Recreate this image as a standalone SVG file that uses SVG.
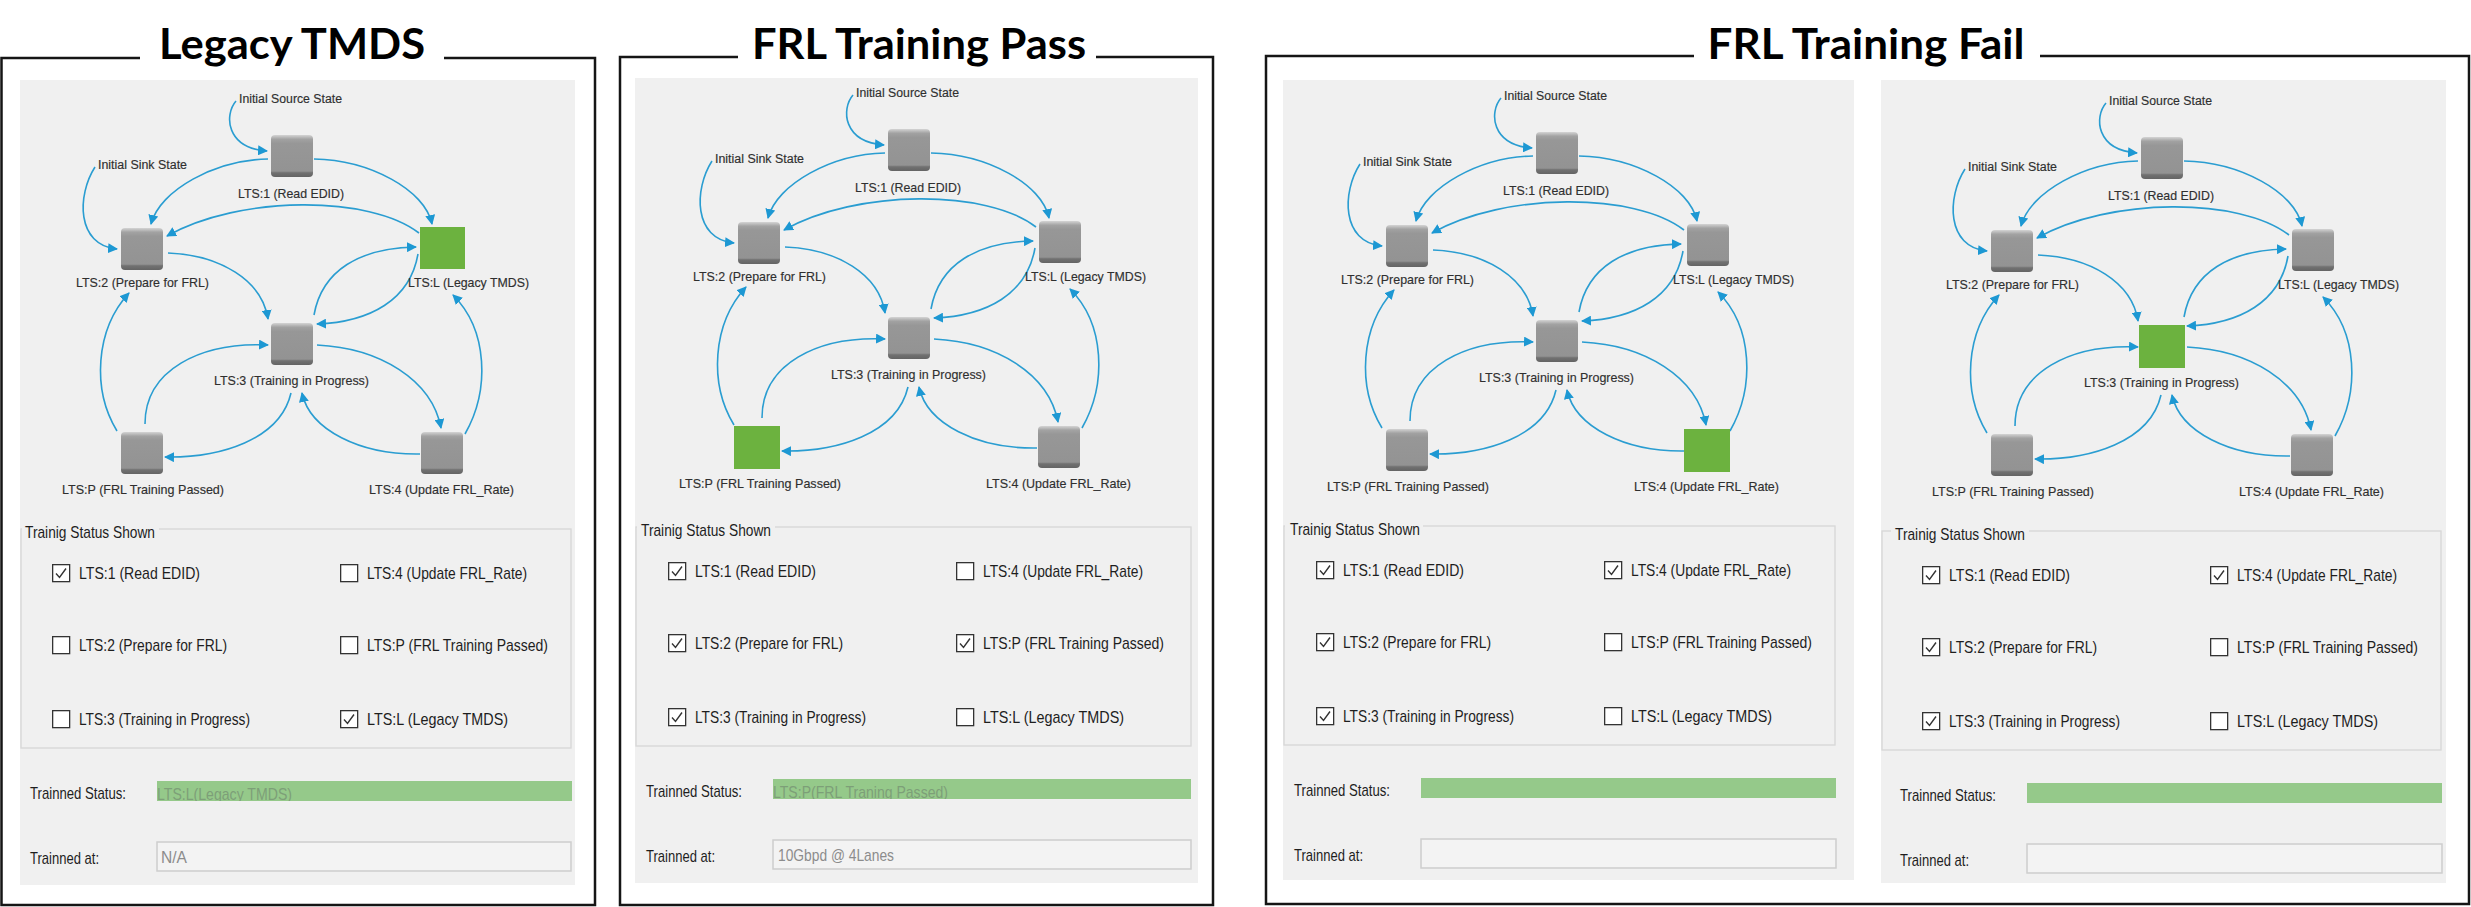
<svg xmlns="http://www.w3.org/2000/svg" xmlns:xlink="http://www.w3.org/1999/xlink" width="2471" height="907" viewBox="0 0 2471 907">
<defs>
<style>
.frame{fill:none;stroke:#151515;stroke-width:2.5}
.title{font-family:Lato,'Open Sans','Liberation Sans',sans-serif;font-weight:700;font-size:42px;fill:#000}
.panel{fill:#f0f0f0}
.edge{fill:none;stroke:#2a9dd1;stroke-width:1.6;marker-end:url(#arr)}
.gl{font-family:'Liberation Sans',Arial,sans-serif;font-size:13px;fill:#2f2f2f;stroke:#2f2f2f;stroke-width:0.15}
.gs{font-family:'Liberation Sans',Arial,sans-serif;font-size:12px;fill:#2f2f2f;stroke:#2f2f2f;stroke-width:0.15}
.ui{font-family:'Liberation Sans',Arial,sans-serif;font-size:17px;fill:#1e1e1e}
.cb{fill:#fff;stroke:#333;stroke-width:1.3}
.ck{fill:none;stroke:#333;stroke-width:1.4}
.gbox{fill:none;stroke:#d6d6d6;stroke-width:1.3}
.gbl{fill:#f0f0f0}
.bar{fill:#95c98a}
.bartxt{fill:#7d9f78}
.field{fill:#f3f3f3;stroke:#cdcdcd;stroke-width:1.5}
.ftxt{fill:#8c8c8c}
.gray{fill:url(#gnode)}
.green{fill:#6cb23f}
</style>
<linearGradient id="gnode" x1="0" y1="0" x2="0" y2="1">
<stop offset="0" stop-color="#d4d4d4"/>
<stop offset="0.1" stop-color="#a2a2a2"/>
<stop offset="0.2" stop-color="#979797"/>
<stop offset="0.86" stop-color="#939393"/>
<stop offset="0.9" stop-color="#717171"/>
<stop offset="1" stop-color="#646464"/>
</linearGradient>
<marker id="arr" viewBox="0 0 10 10" refX="9" refY="5" markerWidth="10" markerHeight="10" markerUnits="userSpaceOnUse" orient="auto">
<path d="M0,0 L10,5 L0,10 z" fill="#1d98d3"/>
</marker>
<clipPath id="barclip" clipPathUnits="userSpaceOnUse"><rect x="157" y="781" width="418" height="20"/></clipPath>
<g id="cb0"><rect class="cb" x="0.65" y="0.65" width="17" height="17"/></g>
<g id="cb1"><rect class="cb" x="0.65" y="0.65" width="17" height="17"/><path class="ck" d="M4,9.5 L7.5,13.5 L14,4.5"/></g>
</defs>

<rect x="0" y="0" width="2471" height="907" fill="#ffffff"/>

<!-- ================= Panel 1: Legacy TMDS ================= -->
<g id="panel-legacy">
<path class="frame" d="M140,58 H1.5 V905 H595 V58 H444"/>
<text class="title" x="292" y="59" text-anchor="middle" textLength="266" lengthAdjust="spacingAndGlyphs">Legacy TMDS</text>
<rect class="panel" x="20" y="80" width="555" height="805"/>
<g transform="translate(0,0)">
<g id="p1-connectors">
<path class="edge" d="M236,101 C224,115 226,148 267,151"/>
<path class="edge" d="M95,167 C77,195 76,245 117,249"/>
<path class="edge" d="M268,159 C215,160 160,190 151,224"/>
<path class="edge" d="M314,159 C370,160 425,190 432,224"/>
<path class="edge" d="M419,233 C370,195 240,195 167,236"/>
<path class="edge" d="M168,253 C220,255 262,280 268,319"/>
<path class="edge" d="M314,315 C322,270 360,248 416,247"/>
<path class="edge" d="M418,254 C410,300 370,322 317,324"/>
<path class="edge" d="M465,434 C490,390 488,330 453,295"/>
<path class="edge" d="M317,345 C380,348 432,380 441,428"/>
<path class="edge" d="M420,454 C360,455 310,430 302,393"/>
<path class="edge" d="M291,393 C280,440 220,458 165,457"/>
<path class="edge" d="M145,424 C145,370 200,342 268,345"/>
<path class="edge" d="M117,431 C92,390 95,330 129,293"/>
</g>
<g id="p1-init-source"><text class="gs" x="239" y="103" textLength="103" lengthAdjust="spacingAndGlyphs">Initial Source State</text></g>
<g id="p1-init-sink"><text class="gs" x="98" y="169" textLength="89" lengthAdjust="spacingAndGlyphs">Initial Sink State</text></g>
<g id="p1-lts1"><rect class="gray" x="271" y="135" width="42" height="42" rx="4"/><text class="gl" x="238" y="198" textLength="106" lengthAdjust="spacingAndGlyphs">LTS:1 (Read EDID)</text></g>
<g id="p1-lts2"><rect class="gray" x="121" y="228" width="42" height="42" rx="4"/><text class="gl" x="76" y="287" textLength="133" lengthAdjust="spacingAndGlyphs">LTS:2 (Prepare for FRL)</text></g>
<g id="p1-ltsL"><rect class="green" x="420" y="227" width="45" height="42"/><text class="gl" x="408" y="287" textLength="121" lengthAdjust="spacingAndGlyphs">LTS:L (Legacy TMDS)</text></g>
<g id="p1-lts3"><rect class="gray" x="271" y="323" width="42" height="42" rx="4"/><text class="gl" x="214" y="385" textLength="155" lengthAdjust="spacingAndGlyphs">LTS:3 (Training in Progress)</text></g>
<g id="p1-ltsP"><rect class="gray" x="121" y="432" width="42" height="42" rx="4"/><text class="gl" x="62" y="494" textLength="162" lengthAdjust="spacingAndGlyphs">LTS:P (FRL Training Passed)</text></g>
<g id="p1-lts4"><rect class="gray" x="421" y="432" width="42" height="42" rx="4"/><text class="gl" x="369" y="494" textLength="145" lengthAdjust="spacingAndGlyphs">LTS:4 (Update FRL_Rate)</text></g>
</g>
<g id="p1-status" transform="translate(0,0)">
<rect class="gbox" x="21" y="529" width="550" height="219"/>
<rect class="gbl" x="22" y="522" width="137" height="14"/>
<text class="ui" x="25" y="538" textLength="130" lengthAdjust="spacingAndGlyphs">Trainig Status Shown</text>
<use xlink:href="#cb1" x="52" y="564"/><text class="ui" x="79" y="579" textLength="121" lengthAdjust="spacingAndGlyphs">LTS:1 (Read EDID)</text>
<use xlink:href="#cb0" x="52" y="636"/><text class="ui" x="79" y="651" textLength="148" lengthAdjust="spacingAndGlyphs">LTS:2 (Prepare for FRL)</text>
<use xlink:href="#cb0" x="52" y="710"/><text class="ui" x="79" y="725" textLength="171" lengthAdjust="spacingAndGlyphs">LTS:3 (Training in Progress)</text>
<use xlink:href="#cb0" x="340" y="564"/><text class="ui" x="367" y="579" textLength="160" lengthAdjust="spacingAndGlyphs">LTS:4 (Update FRL_Rate)</text>
<use xlink:href="#cb0" x="340" y="636"/><text class="ui" x="367" y="651" textLength="181" lengthAdjust="spacingAndGlyphs">LTS:P (FRL Training Passed)</text>
<use xlink:href="#cb1" x="340" y="710"/><text class="ui" x="367" y="725" textLength="141" lengthAdjust="spacingAndGlyphs">LTS:L (Legacy TMDS)</text>
<text class="ui" x="30" y="799" textLength="96" lengthAdjust="spacingAndGlyphs">Trainned Status:</text>
<rect class="bar" x="157" y="781" width="415" height="20"/>
<text class="ui bartxt" x="157" y="800" textLength="135" lengthAdjust="spacingAndGlyphs" clip-path="url(#barclip)">LTS:L(Legacy TMDS)</text>
<text class="ui" x="30" y="864" textLength="69" lengthAdjust="spacingAndGlyphs">Trainned at:</text>
<rect class="field" x="157" y="842" width="414" height="29"/>
<text class="ui ftxt" x="161" y="863" textLength="26" lengthAdjust="spacingAndGlyphs">N/A</text>
</g>
</g>

<!-- ================= Panel 2: FRL Training Pass ================= -->
<g id="panel-pass">
<path class="frame" d="M738,57 H620 V905 H1213 V57 H1096"/>
<text class="title" x="919" y="59" text-anchor="middle" textLength="334" lengthAdjust="spacingAndGlyphs">FRL Training Pass</text>
<rect class="panel" x="635" y="78" width="563" height="805"/>
<g transform="translate(617,-6)">
<g id="p2-connectors">
<path class="edge" d="M236,101 C224,115 226,148 267,151"/>
<path class="edge" d="M95,167 C77,195 76,245 117,249"/>
<path class="edge" d="M268,159 C215,160 160,190 151,224"/>
<path class="edge" d="M314,159 C370,160 425,190 432,224"/>
<path class="edge" d="M419,233 C370,195 240,195 167,236"/>
<path class="edge" d="M168,253 C220,255 262,280 268,319"/>
<path class="edge" d="M314,315 C322,270 360,248 416,247"/>
<path class="edge" d="M418,254 C410,300 370,322 317,324"/>
<path class="edge" d="M465,434 C490,390 488,330 453,295"/>
<path class="edge" d="M317,345 C380,348 432,380 441,428"/>
<path class="edge" d="M420,454 C360,455 310,430 302,393"/>
<path class="edge" d="M291,393 C280,440 220,458 165,457"/>
<path class="edge" d="M145,424 C145,370 200,342 268,345"/>
<path class="edge" d="M117,431 C92,390 95,330 129,293"/>
</g>
<g id="p2-init-source"><text class="gs" x="239" y="103" textLength="103" lengthAdjust="spacingAndGlyphs">Initial Source State</text></g>
<g id="p2-init-sink"><text class="gs" x="98" y="169" textLength="89" lengthAdjust="spacingAndGlyphs">Initial Sink State</text></g>
<g id="p2-lts1"><rect class="gray" x="271" y="135" width="42" height="42" rx="4"/><text class="gl" x="238" y="198" textLength="106" lengthAdjust="spacingAndGlyphs">LTS:1 (Read EDID)</text></g>
<g id="p2-lts2"><rect class="gray" x="121" y="228" width="42" height="42" rx="4"/><text class="gl" x="76" y="287" textLength="133" lengthAdjust="spacingAndGlyphs">LTS:2 (Prepare for FRL)</text></g>
<g id="p2-ltsL"><rect class="gray" x="422" y="227" width="42" height="42" rx="4"/><text class="gl" x="408" y="287" textLength="121" lengthAdjust="spacingAndGlyphs">LTS:L (Legacy TMDS)</text></g>
<g id="p2-lts3"><rect class="gray" x="271" y="323" width="42" height="42" rx="4"/><text class="gl" x="214" y="385" textLength="155" lengthAdjust="spacingAndGlyphs">LTS:3 (Training in Progress)</text></g>
<g id="p2-ltsP"><rect class="green" x="117" y="432" width="46" height="43"/><text class="gl" x="62" y="494" textLength="162" lengthAdjust="spacingAndGlyphs">LTS:P (FRL Training Passed)</text></g>
<g id="p2-lts4"><rect class="gray" x="421" y="432" width="42" height="42" rx="4"/><text class="gl" x="369" y="494" textLength="145" lengthAdjust="spacingAndGlyphs">LTS:4 (Update FRL_Rate)</text></g>
</g>
<g id="p2-status" transform="translate(616,-2)">
<rect class="gbox" x="20" y="529" width="555" height="219"/>
<rect class="gbl" x="21" y="522" width="138" height="14"/>
<text class="ui" x="25" y="538" textLength="130" lengthAdjust="spacingAndGlyphs">Trainig Status Shown</text>
<use xlink:href="#cb1" x="52" y="564"/><text class="ui" x="79" y="579" textLength="121" lengthAdjust="spacingAndGlyphs">LTS:1 (Read EDID)</text>
<use xlink:href="#cb1" x="52" y="636"/><text class="ui" x="79" y="651" textLength="148" lengthAdjust="spacingAndGlyphs">LTS:2 (Prepare for FRL)</text>
<use xlink:href="#cb1" x="52" y="710"/><text class="ui" x="79" y="725" textLength="171" lengthAdjust="spacingAndGlyphs">LTS:3 (Training in Progress)</text>
<use xlink:href="#cb0" x="340" y="564"/><text class="ui" x="367" y="579" textLength="160" lengthAdjust="spacingAndGlyphs">LTS:4 (Update FRL_Rate)</text>
<use xlink:href="#cb1" x="340" y="636"/><text class="ui" x="367" y="651" textLength="181" lengthAdjust="spacingAndGlyphs">LTS:P (FRL Training Passed)</text>
<use xlink:href="#cb0" x="340" y="710"/><text class="ui" x="367" y="725" textLength="141" lengthAdjust="spacingAndGlyphs">LTS:L (Legacy TMDS)</text>
<text class="ui" x="30" y="799" textLength="96" lengthAdjust="spacingAndGlyphs">Trainned Status:</text>
<rect class="bar" x="157" y="781" width="418" height="20"/>
<text class="ui bartxt" x="157" y="800" textLength="175" lengthAdjust="spacingAndGlyphs" clip-path="url(#barclip)">LTS:P(FRL Traning Passed)</text>
<text class="ui" x="30" y="864" textLength="69" lengthAdjust="spacingAndGlyphs">Trainned at:</text>
<rect class="field" x="157" y="842" width="418" height="29"/>
<text class="ui ftxt" x="162" y="863" textLength="116" lengthAdjust="spacingAndGlyphs">10Gbpd @ 4Lanes</text>
</g>
</g>

<!-- ================= Panel 3: FRL Training Fail ================= -->
<g id="panel-fail">
<path class="frame" d="M1694,56 H1266 V904 H2469 V56 H2040"/>
<text class="title" x="1866" y="59" text-anchor="middle" textLength="317" lengthAdjust="spacingAndGlyphs">FRL Training Fail</text>

<rect class="panel" x="1283" y="80" width="571" height="800"/>
<g transform="translate(1265,-3)">
<g id="p3-connectors">
<path class="edge" d="M236,101 C224,115 226,148 267,151"/>
<path class="edge" d="M95,167 C77,195 76,245 117,249"/>
<path class="edge" d="M268,159 C215,160 160,190 151,224"/>
<path class="edge" d="M314,159 C370,160 425,190 432,224"/>
<path class="edge" d="M419,233 C370,195 240,195 167,236"/>
<path class="edge" d="M168,253 C220,255 262,280 268,319"/>
<path class="edge" d="M314,315 C322,270 360,248 416,247"/>
<path class="edge" d="M418,254 C410,300 370,322 317,324"/>
<path class="edge" d="M465,434 C490,390 488,330 453,295"/>
<path class="edge" d="M317,345 C380,348 432,380 441,428"/>
<path class="edge" d="M420,454 C360,455 310,430 302,393"/>
<path class="edge" d="M291,393 C280,440 220,458 165,457"/>
<path class="edge" d="M145,424 C145,370 200,342 268,345"/>
<path class="edge" d="M117,431 C92,390 95,330 129,293"/>
</g>
<g id="p3-init-source"><text class="gs" x="239" y="103" textLength="103" lengthAdjust="spacingAndGlyphs">Initial Source State</text></g>
<g id="p3-init-sink"><text class="gs" x="98" y="169" textLength="89" lengthAdjust="spacingAndGlyphs">Initial Sink State</text></g>
<g id="p3-lts1"><rect class="gray" x="271" y="135" width="42" height="42" rx="4"/><text class="gl" x="238" y="198" textLength="106" lengthAdjust="spacingAndGlyphs">LTS:1 (Read EDID)</text></g>
<g id="p3-lts2"><rect class="gray" x="121" y="228" width="42" height="42" rx="4"/><text class="gl" x="76" y="287" textLength="133" lengthAdjust="spacingAndGlyphs">LTS:2 (Prepare for FRL)</text></g>
<g id="p3-ltsL"><rect class="gray" x="422" y="227" width="42" height="42" rx="4"/><text class="gl" x="408" y="287" textLength="121" lengthAdjust="spacingAndGlyphs">LTS:L (Legacy TMDS)</text></g>
<g id="p3-lts3"><rect class="gray" x="271" y="323" width="42" height="42" rx="4"/><text class="gl" x="214" y="385" textLength="155" lengthAdjust="spacingAndGlyphs">LTS:3 (Training in Progress)</text></g>
<g id="p3-ltsP"><rect class="gray" x="121" y="432" width="42" height="42" rx="4"/><text class="gl" x="62" y="494" textLength="162" lengthAdjust="spacingAndGlyphs">LTS:P (FRL Training Passed)</text></g>
<g id="p3-lts4"><rect class="green" x="419" y="432" width="46" height="43"/><text class="gl" x="369" y="494" textLength="145" lengthAdjust="spacingAndGlyphs">LTS:4 (Update FRL_Rate)</text></g>
</g>
<g id="p3-status" transform="translate(1264,-3)">
<rect class="gbox" x="20" y="529" width="551" height="219"/>
<rect class="gbl" x="21" y="522" width="138" height="14"/>
<text class="ui" x="26" y="538" textLength="130" lengthAdjust="spacingAndGlyphs">Trainig Status Shown</text>
<use xlink:href="#cb1" x="52" y="564"/><text class="ui" x="79" y="579" textLength="121" lengthAdjust="spacingAndGlyphs">LTS:1 (Read EDID)</text>
<use xlink:href="#cb1" x="52" y="636"/><text class="ui" x="79" y="651" textLength="148" lengthAdjust="spacingAndGlyphs">LTS:2 (Prepare for FRL)</text>
<use xlink:href="#cb1" x="52" y="710"/><text class="ui" x="79" y="725" textLength="171" lengthAdjust="spacingAndGlyphs">LTS:3 (Training in Progress)</text>
<use xlink:href="#cb1" x="340" y="564"/><text class="ui" x="367" y="579" textLength="160" lengthAdjust="spacingAndGlyphs">LTS:4 (Update FRL_Rate)</text>
<use xlink:href="#cb0" x="340" y="636"/><text class="ui" x="367" y="651" textLength="181" lengthAdjust="spacingAndGlyphs">LTS:P (FRL Training Passed)</text>
<use xlink:href="#cb0" x="340" y="710"/><text class="ui" x="367" y="725" textLength="141" lengthAdjust="spacingAndGlyphs">LTS:L (Legacy TMDS)</text>
<text class="ui" x="30" y="799" textLength="96" lengthAdjust="spacingAndGlyphs">Trainned Status:</text>
<rect class="bar" x="157" y="781" width="415" height="20"/>
<text class="ui" x="30" y="864" textLength="69" lengthAdjust="spacingAndGlyphs">Trainned at:</text>
<rect class="field" x="157" y="842" width="415" height="29"/>
</g>

<rect class="panel" x="1881" y="80" width="565" height="803"/>
<g transform="translate(1870,2)">
<g id="p4-connectors">
<path class="edge" d="M236,101 C224,115 226,148 267,151"/>
<path class="edge" d="M95,167 C77,195 76,245 117,249"/>
<path class="edge" d="M268,159 C215,160 160,190 151,224"/>
<path class="edge" d="M314,159 C370,160 425,190 432,224"/>
<path class="edge" d="M419,233 C370,195 240,195 167,236"/>
<path class="edge" d="M168,253 C220,255 262,280 268,319"/>
<path class="edge" d="M314,315 C322,270 360,248 416,247"/>
<path class="edge" d="M418,254 C410,300 370,322 317,324"/>
<path class="edge" d="M465,434 C490,390 488,330 453,295"/>
<path class="edge" d="M317,345 C380,348 432,380 441,428"/>
<path class="edge" d="M420,454 C360,455 310,430 302,393"/>
<path class="edge" d="M291,393 C280,440 220,458 165,457"/>
<path class="edge" d="M145,424 C145,370 200,342 268,345"/>
<path class="edge" d="M117,431 C92,390 95,330 129,293"/>
</g>
<g id="p4-init-source"><text class="gs" x="239" y="103" textLength="103" lengthAdjust="spacingAndGlyphs">Initial Source State</text></g>
<g id="p4-init-sink"><text class="gs" x="98" y="169" textLength="89" lengthAdjust="spacingAndGlyphs">Initial Sink State</text></g>
<g id="p4-lts1"><rect class="gray" x="271" y="135" width="42" height="42" rx="4"/><text class="gl" x="238" y="198" textLength="106" lengthAdjust="spacingAndGlyphs">LTS:1 (Read EDID)</text></g>
<g id="p4-lts2"><rect class="gray" x="121" y="228" width="42" height="42" rx="4"/><text class="gl" x="76" y="287" textLength="133" lengthAdjust="spacingAndGlyphs">LTS:2 (Prepare for FRL)</text></g>
<g id="p4-ltsL"><rect class="gray" x="422" y="227" width="42" height="42" rx="4"/><text class="gl" x="408" y="287" textLength="121" lengthAdjust="spacingAndGlyphs">LTS:L (Legacy TMDS)</text></g>
<g id="p4-lts3"><rect class="green" x="269" y="323" width="46" height="43"/><text class="gl" x="214" y="385" textLength="155" lengthAdjust="spacingAndGlyphs">LTS:3 (Training in Progress)</text></g>
<g id="p4-ltsP"><rect class="gray" x="121" y="432" width="42" height="42" rx="4"/><text class="gl" x="62" y="494" textLength="162" lengthAdjust="spacingAndGlyphs">LTS:P (FRL Training Passed)</text></g>
<g id="p4-lts4"><rect class="gray" x="421" y="432" width="42" height="42" rx="4"/><text class="gl" x="369" y="494" textLength="145" lengthAdjust="spacingAndGlyphs">LTS:4 (Update FRL_Rate)</text></g>
</g>
<g id="p4-status" transform="translate(1870,2)">
<rect class="gbox" x="12" y="529" width="559" height="219"/>
<rect class="gbl" x="21" y="522" width="138" height="14"/>
<text class="ui" x="25" y="538" textLength="130" lengthAdjust="spacingAndGlyphs">Trainig Status Shown</text>
<use xlink:href="#cb1" x="52" y="564"/><text class="ui" x="79" y="579" textLength="121" lengthAdjust="spacingAndGlyphs">LTS:1 (Read EDID)</text>
<use xlink:href="#cb1" x="52" y="636"/><text class="ui" x="79" y="651" textLength="148" lengthAdjust="spacingAndGlyphs">LTS:2 (Prepare for FRL)</text>
<use xlink:href="#cb1" x="52" y="710"/><text class="ui" x="79" y="725" textLength="171" lengthAdjust="spacingAndGlyphs">LTS:3 (Training in Progress)</text>
<use xlink:href="#cb1" x="340" y="564"/><text class="ui" x="367" y="579" textLength="160" lengthAdjust="spacingAndGlyphs">LTS:4 (Update FRL_Rate)</text>
<use xlink:href="#cb0" x="340" y="636"/><text class="ui" x="367" y="651" textLength="181" lengthAdjust="spacingAndGlyphs">LTS:P (FRL Training Passed)</text>
<use xlink:href="#cb0" x="340" y="710"/><text class="ui" x="367" y="725" textLength="141" lengthAdjust="spacingAndGlyphs">LTS:L (Legacy TMDS)</text>
<text class="ui" x="30" y="799" textLength="96" lengthAdjust="spacingAndGlyphs">Trainned Status:</text>
<rect class="bar" x="157" y="781" width="415" height="20"/>
<text class="ui" x="30" y="864" textLength="69" lengthAdjust="spacingAndGlyphs">Trainned at:</text>
<rect class="field" x="157" y="842" width="415" height="29"/>
</g>
</g>
</svg>
